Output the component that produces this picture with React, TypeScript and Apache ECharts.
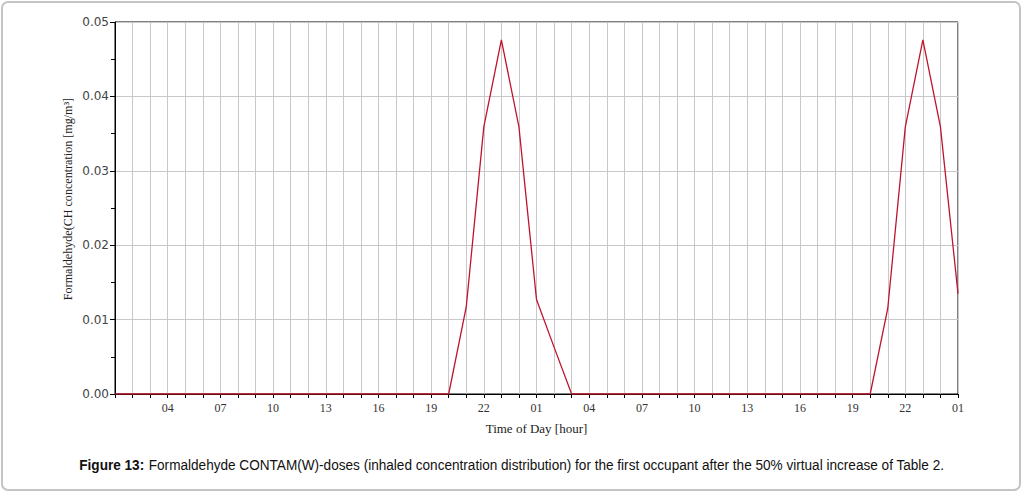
import React, { useEffect, useRef } from "react";
import * as echarts from "echarts";

const hours: string[] = [
  "01", "02", "03", "04", "05", "06", "07", "08", "09", "10", "11", "12",
  "13", "14", "15", "16", "17", "18", "19", "20", "21", "22", "23", "00",
  "01", "02", "03", "04", "05", "06", "07", "08", "09", "10", "11", "12",
  "13", "14", "15", "16", "17", "18", "19", "20", "21", "22", "23", "00",
  "01",
];

const concentration: number[] = [
  0, 0, 0, 0, 0, 0, 0, 0, 0, 0, 0, 0,
  0, 0, 0, 0, 0, 0, 0, 0, 0.0117, 0.0359, 0.0476, 0.0359,
  0.0127, 0.0063, 0, 0, 0, 0, 0, 0, 0, 0, 0, 0,
  0, 0, 0, 0, 0, 0, 0, 0, 0.0115, 0.0359, 0.0476, 0.0359,
  0.0135,
];

const yTicks: number[] = [0, 0.01, 0.02, 0.03, 0.04, 0.05];

const yAxisTitle = "Formaldehyde(CH concentration [mg/m³]";
const xAxisTitle = "Time of Day [hour]";
const captionBold = "Figure 13:";
const captionText =
  " Formaldehyde CONTAM(W)-doses (inhaled concentration distribution) for the first occupant after the 50% virtual increase of Table 2.";

export default function App() {
  const ref = useRef<HTMLDivElement>(null);

  useEffect(() => {
    if (!ref.current) return;
    const chart = echarts.init(ref.current, null, { renderer: "svg" });
    chart.setOption({
      animation: false,
      backgroundColor: "#ffffff",
      grid: {
        left: 115,
        right: 65,
        top: 22,
        bottom: 99,
        show: true,
        borderColor: "#000000",
        borderWidth: 1,
        backgroundColor: "transparent",
      },
      xAxis: {
        type: "category",
        data: hours,
        boundaryGap: false,
        name: xAxisTitle,
        nameLocation: "middle",
        nameGap: 28,
        nameTextStyle: {
          fontFamily: "Liberation Serif",
          fontSize: 13,
          color: "#222",
        },
        axisLine: { show: true, lineStyle: { color: "#000", width: 1 } },
        axisTick: {
          show: true,
          interval: 0,
          length: 4,
          lineStyle: { color: "#000" },
        },
        axisLabel: {
          interval: (index: number) => index > 0 && index % 3 === 0,
          fontFamily: "Liberation Serif",
          fontSize: 12,
          color: "#333",
          margin: 8,
        },
        splitLine: {
          show: true,
          interval: 0,
          lineStyle: { color: "#c8c8c8", width: 1 },
        },
      },
      yAxis: {
        type: "value",
        min: yTicks[0],
        max: yTicks[yTicks.length - 1],
        interval: 0.01,
        axisLine: { show: true, lineStyle: { color: "#000", width: 1 } },
        axisTick: { show: true, length: 5, lineStyle: { color: "#000" } },
        minorTick: {
          show: true,
          splitNumber: 2,
          length: 4,
          lineStyle: { color: "#000" },
        },
        axisLabel: {
          formatter: (v: number) => v.toFixed(2),
          fontFamily: "DejaVu Sans",
          fontSize: 12,
          color: "#444",
          margin: 6,
        },
        splitLine: {
          show: true,
          lineStyle: { color: "#c8c8c8", width: 1 },
        },
      },
      graphic: [
        {
          type: "rect",
          shape: { x: 2, y: 2, width: 1018, height: 488, r: 6 },
          style: { fill: "none", stroke: "#c4c4c4", lineWidth: 2 },
          silent: true,
          z: -1,
        },
        {
          type: "text",
          x: 68,
          y: 199,
          rotation: Math.PI / 2,
          scaleX: 0.93,
          style: {
            text: yAxisTitle,
            fontFamily: "Liberation Serif",
            fontSize: 13,
            fill: "#222",
            align: "center",
            verticalAlign: "middle",
          },
        },
        {
          type: "text",
          x: 512,
          y: 465,
          scaleX: 0.907,
          style: {
            text: "{b|" + captionBold + "}{n|" + captionText + "}",
            align: "center",
            verticalAlign: "middle",
            rich: {
              b: {
                fontFamily: "Liberation Sans",
                fontSize: 15,
                fontWeight: "bold",
                fill: "#111",
              },
              n: {
                fontFamily: "Liberation Sans",
                fontSize: 15,
                fill: "#111",
              },
            },
          },
        },
      ],
      series: [
        {
          type: "line",
          data: concentration,
          showSymbol: false,
          symbol: "none",
          lineStyle: { color: "#c0142c", width: 1.3 },
          z: 5,
        },
      ],
    });
    return () => chart.dispose();
  }, []);

  return (
    <div
      ref={ref}
      style={{ position: "absolute", left: 0, top: 0, width: 1023, height: 493 }}
    />
  );
}
